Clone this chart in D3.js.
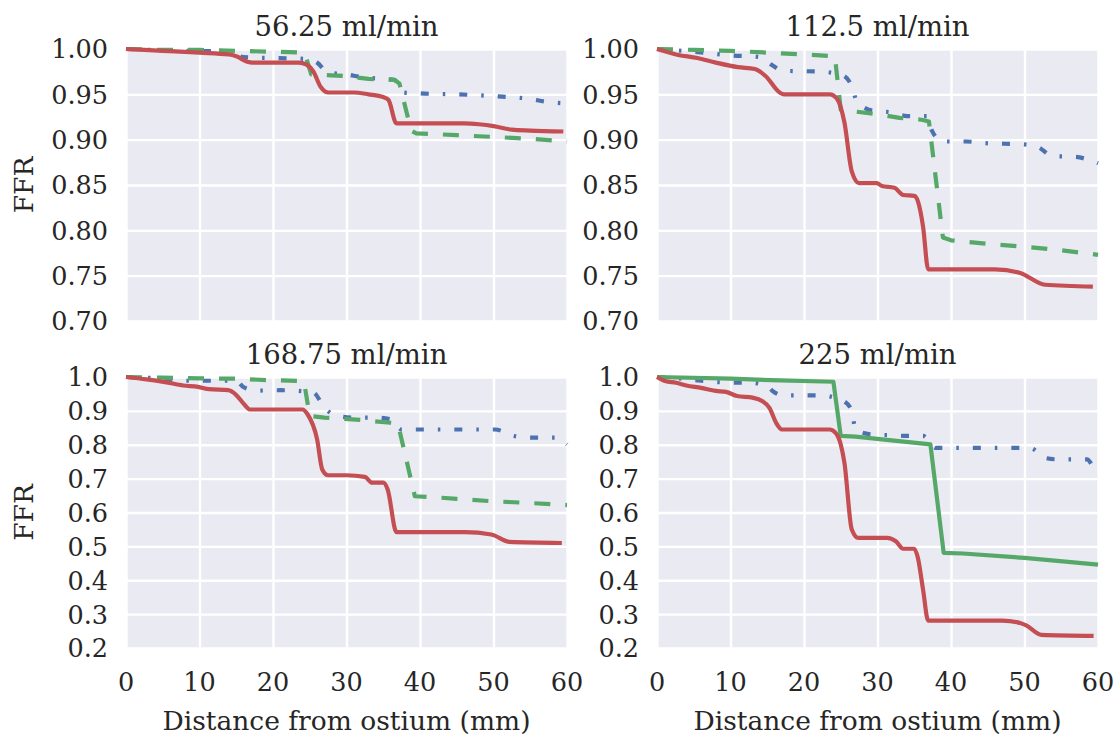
<!DOCTYPE html>
<html>
<head>
<meta charset="utf-8">
<script src="https://cdn.jsdelivr.net/npm/d3@7/dist/d3.min.js"></script>
<style>
  body { margin: 0; background: #fff; }
  svg { display: block; }
  text { font-family: "DejaVu Serif", serif; fill: #262626; }
</style>
</head>
<body>
<div id="chart"></div>
<script>
// chart size
var W = 1120, H = 738;

// panel titles (flow rates)
var titles = ["56.25 ml/min", "112.5 ml/min", "168.75 ml/min", "225 ml/min"];

// x ticks (distance, mm)
var xTicks = [0, 10, 20, 30, 40, 50, 60];
// y ticks, top row and bottom row
var yTicksTop = [0.70, 0.75, 0.80, 0.85, 0.90, 0.95, 1.00];
var yTicksBottom = [0.2, 0.3, 0.4, 0.5, 0.6, 0.7, 0.8, 0.9, 1.0];

// ---- series: [distance, FFR] ----
// 56.25 ml/min
var red56 = [[0,1.000],[5,0.998],[10,0.996],[14,0.994],[15,0.992],[16.5,0.986],[17.2,0.985],[23.5,0.985],[24.5,0.983],[25.5,0.975],[26.5,0.958],[27.5,0.952],[31,0.952],[33,0.950],[35,0.947],[35.7,0.944],[36.8,0.918],[46,0.918],[48,0.917],[50,0.915],[52.5,0.911],[55,0.910],[59.5,0.909]];
var green56 = [[0,1.000],[5,0.999],[10,0.999],[15,0.998],[20,0.997],[24.3,0.996],[25.2,0.972],[28,0.971],[30,0.970],[33,0.967],[36.5,0.966],[37.2,0.962],[38.8,0.910],[39.5,0.907],[45,0.905],[50,0.903],[55,0.901],[60,0.898]];
var blue56 = [[0,1.000],[8,0.998],[14.5,0.997],[16,0.991],[20,0.990],[24.5,0.989],[26,0.985],[27.5,0.974],[30,0.972],[32,0.969],[35,0.967],[36.5,0.966],[37.8,0.952],[40,0.951],[45,0.950],[50,0.948],[52,0.947],[55,0.945],[57,0.942],[60,0.940]];

// 112.5 ml/min
var red112 = [[0,1.000],[2.6,0.994],[5.5,0.990],[8,0.985],[11,0.980],[13.3,0.978],[14.8,0.970],[16.7,0.952],[17.3,0.950],[23.5,0.950],[24.5,0.945],[25.5,0.919],[26.5,0.865],[27.5,0.852],[29.9,0.852],[30.6,0.849],[32.3,0.847],[33.5,0.839],[35,0.838],[35.5,0.832],[36.2,0.804],[36.9,0.757],[46,0.757],[49.4,0.753],[52.8,0.740],[59.3,0.738]];
var green112 = [[0,1.000],[5,0.999],[10,0.998],[15,0.996],[20,0.994],[24.2,0.992],[25,0.933],[27,0.931],[30,0.928],[33,0.924],[36,0.922],[37,0.920],[38.9,0.792],[40,0.789],[45,0.785],[50,0.782],[55,0.778],[60,0.773]];
var blue112 = [[0,1.000],[5,0.997],[10,0.993],[14,0.991],[15.5,0.983],[17.2,0.976],[22.5,0.975],[24.3,0.973],[25.5,0.970],[26.5,0.959],[27.2,0.942],[29.4,0.932],[32,0.930],[34,0.926],[36.7,0.926],[37.4,0.910],[38.9,0.898],[42,0.898],[45,0.896],[49.4,0.895],[51.8,0.892],[53.8,0.882],[57,0.881],[59,0.877],[60,0.874]];

// 168.75 ml/min
var red168 = [[0,1.0],[2.8,0.993],[5.3,0.985],[7.8,0.975],[9.8,0.971],[11.3,0.964],[13.9,0.961],[14.9,0.949],[16.1,0.919],[16.9,0.904],[24,0.904],[24.7,0.89],[26,0.816],[26.7,0.727],[27.5,0.710],[30,0.710],[32.5,0.705],[33.5,0.688],[35,0.688],[35.6,0.668],[36.8,0.542],[46.1,0.542],[49.7,0.535],[52.2,0.513],[59.3,0.510]];
var green168 = [[0,1.0],[5,0.998],[10,0.996],[15,0.995],[19,0.991],[24.2,0.988],[25,0.885],[27,0.880],[32,0.873],[36,0.865],[37,0.862],[39.3,0.648],[42,0.645],[45,0.640],[50,0.633],[55,0.628],[60,0.622]];
var blue168 = [[0,1.0],[5,0.995],[8,0.989],[15,0.989],[16,0.970],[18,0.960],[21,0.961],[24,0.958],[25.5,0.954],[27,0.909],[28.5,0.887],[31,0.880],[34,0.880],[36,0.875],[37.5,0.845],[50.2,0.845],[52.8,0.826],[55,0.821],[58.5,0.821],[60,0.801]];

// 225 ml/min
var red225 = [[0,1.0],[1.1,0.988],[2.6,0.983],[4,0.975],[6,0.968],[8,0.959],[9.4,0.956],[10.9,0.944],[13,0.939],[14.3,0.929],[15.3,0.909],[16.2,0.865],[17,0.845],[23.5,0.845],[24.3,0.835],[25,0.801],[25.5,0.747],[26.5,0.55],[27.4,0.525],[31.3,0.525],[32.5,0.515],[33.5,0.493],[35,0.493],[35.5,0.466],[36.2,0.372],[36.9,0.281],[46.9,0.281],[49.4,0.274],[50.3,0.266],[52.3,0.239],[59.4,0.236]];
var green225 = [[0,1.0],[10,0.995],[16.7,0.990],[24,0.986],[25,0.826],[27,0.824],[37.2,0.801],[39,0.481],[41.6,0.479],[50,0.466],[60,0.446]];
var blue225 = [[0,1.0],[3,0.996],[5.5,0.990],[10.5,0.983],[12.8,0.983],[15.3,0.968],[15.7,0.959],[17.2,0.946],[22.3,0.946],[24.5,0.937],[25.2,0.932],[26.5,0.901],[27,0.845],[29,0.831],[32,0.828],[34,0.826],[36.2,0.826],[36.7,0.820],[37.9,0.791],[50.3,0.791],[51,0.789],[52.8,0.761],[54.5,0.757],[58.5,0.757],[59.6,0.727],[60,0.722]];

var colors = { red: "#c44e52", green: "#55a868", blue: "#4c72b0" };

// panel layout
var lefts = [126, 657], pw = 441;
var tops = [49, 377], ph = [272, 271];

var panels = [
  { title: titles[0], col: 0, row: 0, yDomain: [0.70, 1.00], yTicks: yTicksTop, fmt: ".2f",
    series: [{ d: blue56, c: "blue", dash: "8,14,2.5,14" }, { d: green56, c: "green", dash: "16,15" }, { d: red56, c: "red", dash: null }] },
  { title: titles[1], col: 1, row: 0, yDomain: [0.70, 1.00], yTicks: yTicksTop, fmt: ".2f",
    series: [{ d: blue112, c: "blue", dash: "8,14,2.5,14" }, { d: green112, c: "green", dash: "16,15" }, { d: red112, c: "red", dash: null }] },
  { title: titles[2], col: 0, row: 1, yDomain: [0.2, 1.0], yTicks: yTicksBottom, fmt: ".1f",
    series: [{ d: blue168, c: "blue", dash: "8,14,2.5,14" }, { d: green168, c: "green", dash: "16,15" }, { d: red168, c: "red", dash: null }] },
  { title: titles[3], col: 1, row: 1, yDomain: [0.2, 1.0], yTicks: yTicksBottom, fmt: ".1f",
    series: [{ d: blue225, c: "blue", dash: "8,14,2.5,14" }, { d: green225, c: "green", dash: null }, { d: red225, c: "red", dash: null }] }
];

var svg = d3.select("#chart").append("svg")
  .attr("width", W)
  .attr("height", H);

panels.forEach(function (p) {
  var x0 = lefts[p.col], y0 = tops[p.row], h = ph[p.row];

  var x = d3.scaleLinear().domain([0, 60]).range([0, pw]);
  var y = d3.scaleLinear().domain(p.yDomain).range([h, 0]);

  var g = svg.append("g").attr("transform", "translate(" + x0 + "," + y0 + ")");

  // background
  g.append("rect")
    .attr("width", pw)
    .attr("height", h)
    .attr("fill", "#eaeaf2");

  // grid via axes, ticks stretched across
  var gx = g.append("g")
    .attr("transform", "translate(0," + h + ")")
    .call(d3.axisBottom(x).tickValues(xTicks).tickSize(-h).tickFormat(""));
  var gy = g.append("g")
    .call(d3.axisLeft(y).tickValues(p.yTicks).tickSize(-pw).tickFormat(""));
  [gx, gy].forEach(function (a) {
    a.select(".domain").remove();
    a.selectAll(".tick line").attr("stroke", "#fff").attr("stroke-width", 2.4);
  });

  // y tick labels
  g.selectAll(".ylab")
    .data(p.yTicks)
    .enter().append("text")
    .attr("class", "ylab")
    .attr("x", -18)
    .attr("y", function (d) { return y(d); })
    .attr("dy", "0.37em")
    .attr("text-anchor", "end")
    .style("font-size", "25.5px")
    .text(d3.format(p.fmt));

  // x tick labels only on bottom row
  if (p.row == 1) {
    g.selectAll(".xlab")
      .data(xTicks)
      .enter().append("text")
      .attr("class", "xlab")
      .attr("x", function (d) { return x(d); })
      .attr("y", h + 43)
      .attr("text-anchor", "middle")
      .style("font-size", "25.5px")
      .text(function (d) { return d; });

    g.append("text")
      .attr("x", pw / 2)
      .attr("y", h + 82)
      .attr("text-anchor", "middle")
      .style("font-size", "26.5px")
      .text("Distance from ostium (mm)");
  }

  // y label only on left column
  if (p.col == 0) {
    g.append("text")
      .attr("transform", "translate(" + (33 - x0) + "," + (h / 2) + ") rotate(-90)")
      .attr("text-anchor", "middle")
      .style("font-size", "26.5px")
      .text("FFR");
  }

  // title
  g.append("text")
    .attr("x", pw / 2)
    .attr("y", -13)
    .attr("text-anchor", "middle")
    .style("font-size", "27.5px")
    .text(p.title);

  // lines
  p.series.forEach(function (s) {
    var line = d3.line()
      .x(function (d) { return x(d[0]); })
      .y(function (d) { return y(d[1]); })
      .curve(s.c == "green" ? d3.curveLinear : d3.curveMonotoneX);
    g.append("path")
      .datum(s.d)
      .attr("d", line)
      .attr("fill", "none")
      .attr("stroke", colors[s.c])
      .attr("stroke-width", 4.2)
      .attr("stroke-dasharray", s.dash)
      .attr("stroke-linejoin", "round");
  });
});
</script>
</body>
</html>
